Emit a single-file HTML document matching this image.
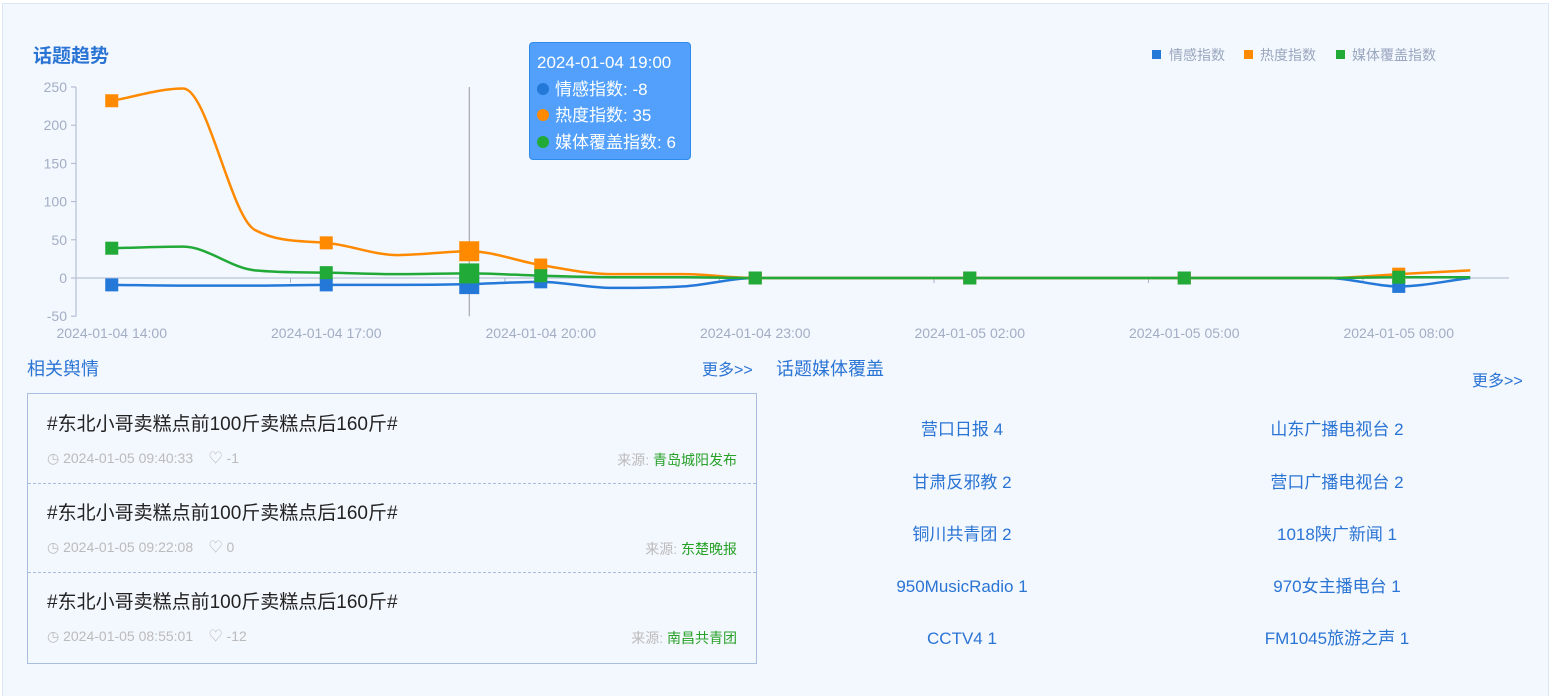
<!DOCTYPE html>
<html><head><meta charset="utf-8">
<style>
html,body{margin:0;width:1557px;height:696px;overflow:hidden}
body{background:#fff;font-family:"Liberation Sans","Noto Sans CJK SC",sans-serif;position:relative}
.card{position:absolute;left:2px;top:3px;width:1547px;height:693px;background:#f3f7fe;border:1px solid #dbe6f7;border-bottom:none;box-sizing:border-box}
.abs{position:absolute}
.item{position:absolute;left:0;width:728px;height:89px;border-bottom:1px dashed #a9bde0}
.item .t{position:absolute;left:19px;top:19px;font-size:19px;line-height:24px;color:#222}
.item .m{position:absolute;left:19px;top:55px;font-size:14px;line-height:18px;color:#bbb}
.item .s{position:absolute;right:19px;top:57px;font-size:14px;line-height:18px;color:#bbb}
.item .s b{font-weight:normal;color:#27a127}
.media{position:absolute;font-size:17px;line-height:20px;height:20px;color:#2a74d4;width:300px;text-align:center}
</style></head><body>
<div class="card"></div>
<div class="abs" style="left:33px;top:45px;font-size:19px;line-height:24px;font-weight:bold;color:#2a74d4">话题趋势</div>
<svg class="abs" style="left:0;top:0" width="1557" height="360">
<g id="axes"></g><g id="lines"></g><g id="marks"></g>
<g font-size="14" fill="#9aa7bf">
<rect x="1152" y="50" width="9" height="9" fill="#2478d8"/><text x="1169" y="60">情感指数</text>
<rect x="1244" y="50" width="9" height="9" fill="#ff8a00"/><text x="1260" y="60">热度指数</text>
<rect x="1336" y="50" width="9" height="9" fill="#22aa38"/><text x="1352" y="60">媒体覆盖指数</text>
</g>
</svg>
<div class="abs" style="left:529px;top:42px;width:162px;height:118px;background:#52a0fb;border:1px solid #2f8bea;border-radius:4px;box-sizing:border-box;color:#fff;font-size:17px;line-height:26.5px;padding:7px 0 0 7px">
<div>2024-01-04 19:00</div>
<div><span style="display:inline-block;width:12px;height:12px;border-radius:6px;background:#2478d8;margin-right:6px"></span>情感指数: -8</div>
<div><span style="display:inline-block;width:12px;height:12px;border-radius:6px;background:#ff8a00;margin-right:6px"></span>热度指数: 35</div>
<div><span style="display:inline-block;width:12px;height:12px;border-radius:6px;background:#22aa38;margin-right:6px"></span>媒体覆盖指数: 6</div>
</div>
<div class="abs" style="left:27px;top:358px;font-size:18px;line-height:22px;color:#2a74d4">相关舆情</div>
<div class="abs" style="left:702px;top:361px;font-size:16px;line-height:20px;color:#2a74d4">更多&gt;&gt;</div>
<div class="abs" style="left:776px;top:358px;font-size:18px;line-height:22px;color:#2a74d4">话题媒体覆盖</div>
<div class="abs" style="left:1472px;top:372px;font-size:16px;line-height:20px;color:#2a74d4">更多&gt;&gt;</div>
<div class="abs" style="left:27px;top:393px;width:730px;height:271px;border:1px solid #a9bde0;box-sizing:border-box;overflow:hidden">
<div class="item" style="top:0"><div class="t">#东北小哥卖糕点前100斤卖糕点后160斤#</div><div class="m">◷ 2024-01-05 09:40:33 &nbsp;&nbsp; ♡ -1</div><div class="s">来源: <b>青岛城阳发布</b></div></div>
<div class="item" style="top:89px"><div class="t">#东北小哥卖糕点前100斤卖糕点后160斤#</div><div class="m">◷ 2024-01-05 09:22:08 &nbsp;&nbsp; ♡ 0</div><div class="s">来源: <b>东楚晚报</b></div></div>
<div class="item" style="top:178px;border-bottom:none"><div class="t">#东北小哥卖糕点前100斤卖糕点后160斤#</div><div class="m">◷ 2024-01-05 08:55:01 &nbsp;&nbsp; ♡ -12</div><div class="s">来源: <b>南昌共青团</b></div></div>
</div>
<div class="media" style="left:812px;top:420px">营口日报 4</div>
<div class="media" style="left:1187px;top:420px">山东广播电视台 2</div>
<div class="media" style="left:812px;top:473px">甘肃反邪教 2</div>
<div class="media" style="left:1187px;top:473px">营口广播电视台 2</div>
<div class="media" style="left:812px;top:525px">铜川共青团 2</div>
<div class="media" style="left:1187px;top:525px">1018陕广新闻 1</div>
<div class="media" style="left:812px;top:577px">950MusicRadio 1</div>
<div class="media" style="left:1187px;top:577px">970女主播电台 1</div>
<div class="media" style="left:812px;top:629px">CCTV4 1</div>
<div class="media" style="left:1187px;top:629px">FM1045旅游之声 1</div>
<script>
const categories=["2024-01-04 14:00","2024-01-04 15:00","2024-01-04 16:00","2024-01-04 17:00","2024-01-04 18:00","2024-01-04 19:00","2024-01-04 20:00","2024-01-04 21:00","2024-01-04 22:00","2024-01-04 23:00","2024-01-05 00:00","2024-01-05 01:00","2024-01-05 02:00","2024-01-05 03:00","2024-01-05 04:00","2024-01-05 05:00","2024-01-05 06:00","2024-01-05 07:00","2024-01-05 08:00","2024-01-05 09:00"];
const sentiment=[-9,-10,-10,-9,-9,-8,-5,-13,-11,0,0,0,0,0,0,0,0,0,-11,0];
const heat=[232,248,63,46,30,35,17,5,5,0,0,0,0,0,0,0,0,0,5,10];
const coverage=[39,41,10,7,5,6,3,1,1,0,0,0,0,0,0,0,0,0,1,1];
const yTicks=[-50,0,50,100,150,200,250];
const hoverIndex=5;
const NS="http://www.w3.org/2000/svg";
const x0=76,bw=71.5,yZero=278,yk=0.764;
const xs=i=>x0+bw*(i+0.5);
const ys=v=>yZero-v*yk;
function mk(tag,at,parent){const e=document.createElementNS(NS,tag);for(const k in at)e.setAttribute(k,at[k]);document.getElementById(parent).appendChild(e);return e;}
const xEnd=x0+bw*categories.length;
let e=mk('line',{x1:x0,x2:x0,y1:ys(250),y2:ys(-50),stroke:'#aab6cc'},'axes');


yTicks.forEach(t=>{
  mk('line',{x1:x0-5,x2:x0,y1:ys(t),y2:ys(t),stroke:'#aab6cc'},'axes');
  const tx=mk('text',{x:x0-9,y:ys(t)+5,'text-anchor':'end','font-size':14,fill:'#a3aec4'},'axes');tx.textContent=t;
  
  
});
e=mk('line',{x1:x0,x2:xEnd+3,y1:yZero,y2:yZero,stroke:'#c4cde0','stroke-width':1.5},'axes');


categories.forEach((c,i)=>{
  if(i%3===0){
    if(i>0)mk('line',{x1:x0+bw*i,x2:x0+bw*i,y1:yZero,y2:yZero+5,stroke:'#aab6cc'},'axes');
    const tx=mk('text',{x:xs(i),y:338,'text-anchor':'middle','font-size':14,fill:'#a3aec4'},'axes');tx.textContent=c;
    
    
  }
});
e=mk('line',{x1:xs(hoverIndex),x2:xs(hoverIndex),y1:ys(250),y2:ys(-50),stroke:'#999'},'axes');


function path(vals){
  const n=vals.length,p=vals.map((v,i)=>[xs(i),ys(v)]);
  const d=[];for(let i=0;i<n-1;i++)d.push((p[i+1][1]-p[i][1])/bw);
  const m=[d[0]];
  for(let i=1;i<n-1;i++){m.push(d[i-1]*d[i]<=0?0:(d[i-1]+d[i])/2);}
  m.push(d[n-2]);
  for(let i=0;i<n-1;i++){
    if(d[i]===0){m[i]=0;m[i+1]=0;continue;}
    const a=m[i]/d[i],b=m[i+1]/d[i],s=a*a+b*b;
    if(s>9){const t=3/Math.sqrt(s);m[i]=t*a*d[i];m[i+1]=t*b*d[i];}
  }
  let s=`M${p[0][0]},${p[0][1]}`;
  for(let i=0;i<n-1;i++){
    const h=bw/3;
    s+=` C${p[i][0]+h},${p[i][1]+m[i]*h} ${p[i+1][0]-h},${p[i+1][1]-m[i+1]*h} ${p[i+1][0]},${p[i+1][1]}`;
  }
  return s;
}
const series=[[sentiment,'#2478d8','sentiment-line'],[heat,'#ff8a00','heat-line'],[coverage,'#22aa38','coverage-line']];
series.forEach(([vals,col,name])=>{
  const p=mk('path',{d:path(vals),fill:'none',stroke:col,'stroke-width':2.5},'lines');
  
  
  vals.forEach((v,i)=>{
    if(i%3!==0&&i!==hoverIndex)return;
    const s=i===hoverIndex?20:13;
    const r=mk('rect',{x:xs(i)-s/2,y:ys(v)-s/2,width:s,height:s,fill:col},'marks');
    
    
  });
});
</script>
</body></html>
